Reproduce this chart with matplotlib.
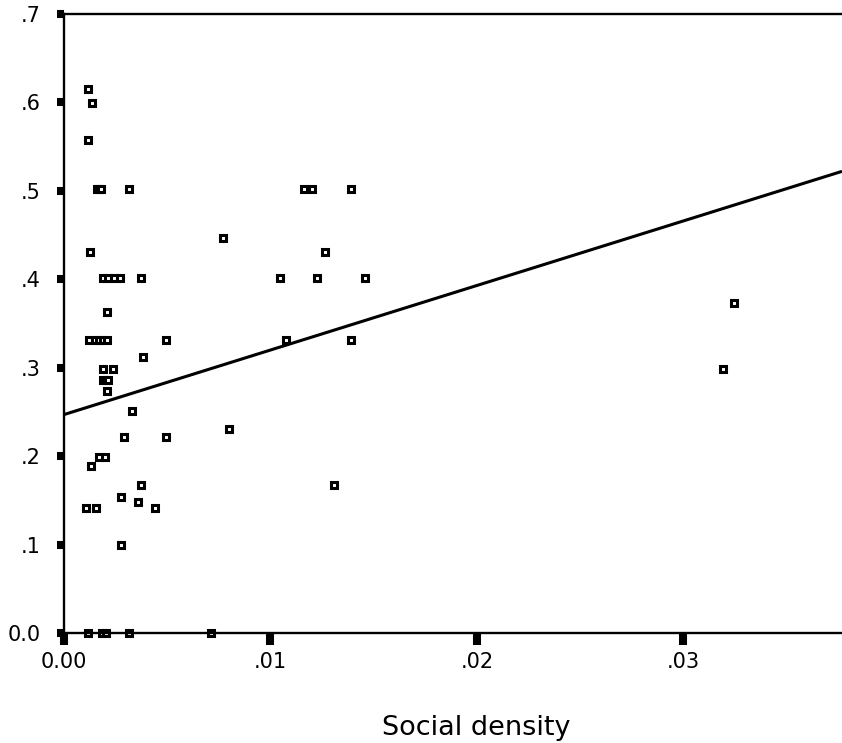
import numpy as np
import matplotlib
matplotlib.use("Agg")
import matplotlib.pyplot as plt

plt.rcParams["font.family"] = ["DejaVu Sans"]

# Data (x = social density, y = outcome share)
social_density = [
    0.00116, 0.00137, 0.00118,
    0.00160, 0.00170, 0.00179, 0.00315, 0.01160, 0.01200, 0.01390,
    0.00772,
    0.00126, 0.01266,
    0.00187, 0.00214, 0.00242, 0.00271, 0.00371, 0.01046, 0.01224, 0.01459,
    0.03246,
    0.00207,
    0.00123, 0.00150, 0.00170, 0.00189, 0.00208, 0.00494, 0.01073, 0.01390,
    0.00384,
    0.00190, 0.00236, 0.03191,
    0.00189, 0.00203, 0.00213,
    0.00207,
    0.00331,
    0.00799,
    0.00289, 0.00494,
    0.00168, 0.00197,
    0.00129,
    0.00371, 0.01306,
    0.00274,
    0.00358,
    0.00107, 0.00153, 0.00441,
    0.00274,
    0.00116, 0.00184, 0.00203, 0.00315, 0.00713,
]
outcome = [
    0.615, 0.599, 0.557,
    0.502, 0.502, 0.502, 0.502, 0.502, 0.502, 0.502,
    0.447,
    0.431, 0.431,
    0.402, 0.402, 0.402, 0.402, 0.402, 0.402, 0.402, 0.402,
    0.373,
    0.363,
    0.331, 0.331, 0.331, 0.331, 0.331, 0.331, 0.331, 0.331,
    0.312,
    0.299, 0.299, 0.299,
    0.286, 0.286, 0.286,
    0.274,
    0.251,
    0.231,
    0.222, 0.222,
    0.199, 0.199,
    0.189,
    0.167, 0.167,
    0.154,
    0.148,
    0.141, 0.141, 0.141,
    0.099,
    0.0, 0.0, 0.0, 0.0, 0.0,
]

# Fit line as drawn in the reference
fit_intercept = 0.247
fit_slope = 7.30

x_ticks = [0.0, 0.01, 0.02, 0.03]
x_tick_labels = ["0.00", ".01", ".02", ".03"]
y_ticks = [0.0, 0.1, 0.2, 0.3, 0.4, 0.5, 0.6, 0.7]
y_tick_labels = ["0.0", ".1", ".2", ".3", ".4", ".5", ".6", ".7"]

fig = plt.figure(figsize=(8.42, 7.43), dpi=100)
ax = fig.add_axes([64 / 842, 1 - 633 / 743, 778 / 842, 619 / 743])

x_max = 0.03768
ax.set_xlim(0, x_max)
ax.set_ylim(0, 0.7)

# regression line
xs = np.array([0, x_max])
ax.plot(xs, fit_intercept + fit_slope * xs, color="black", lw=2.2, zorder=2,
        solid_capstyle="butt")

# hollow square markers (below the spines so the x axis runs through the zeros)
ax.plot(social_density, outcome, linestyle="none", marker="s", ms=4.4, mew=2.2,
        mec="black", mfc="white", zorder=2.4, clip_on=False)

# spines
for side in ["left", "top", "bottom"]:
    ax.spines[side].set_linewidth(1.7)
ax.spines["right"].set_visible(False)

ax.set_xticks(x_ticks)
ax.set_xticklabels(x_tick_labels)
ax.set_yticks(y_ticks)
ax.set_yticklabels(y_tick_labels)
ax.tick_params(axis="x", direction="out", length=8.6, width=5.8, pad=5,
               labelsize=15)
ax.tick_params(axis="y", direction="out", length=5, width=5.8, pad=12,
               labelsize=15)

ax.set_xlabel("Social density", fontsize=19.5)
ax.xaxis.label.set_va("baseline")
ax.xaxis.set_label_coords((476 - 64) / 778, (633 - 735) / 619)

fig.savefig("out.png", dpi=100)
